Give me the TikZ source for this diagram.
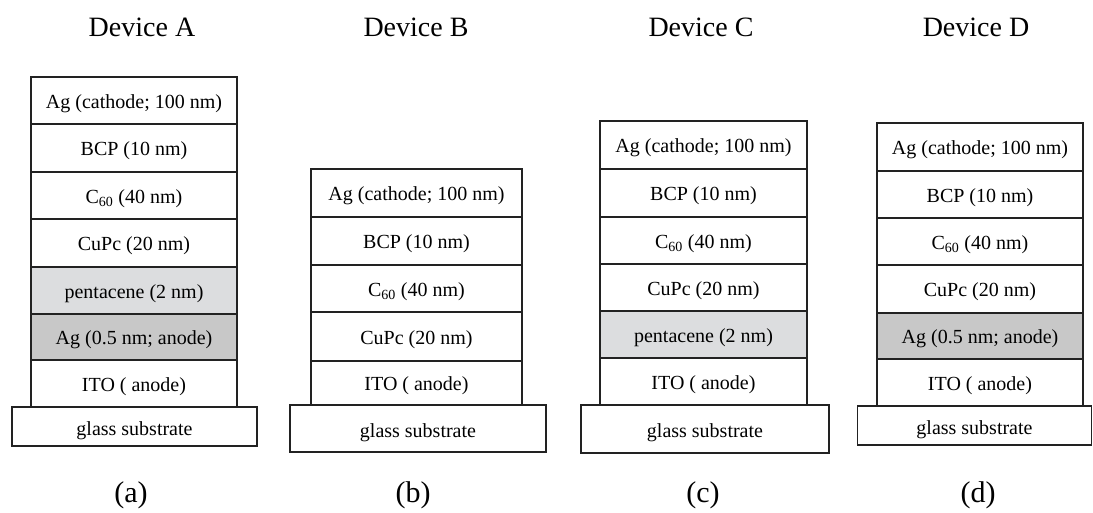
\documentclass[tikz,border=0pt]{standalone}
\usepackage{fontspec}
\setmainfont{Liberation Serif}
\definecolor{penta}{HTML}{DCDDDF}
\definecolor{agan}{HTML}{C8C8C8}
\definecolor{edge}{HTML}{222222}
\begin{document}
\begin{tikzpicture}[x=1pt,y=-1pt,
  layer/.style={draw=edge, line width=1.3pt, fill=white, inner sep=0pt, anchor=center,
    text height=15pt, text depth=0pt,
    font=\fontsize{20}{24}\selectfont},
  glass/.style={layer, text height=17pt},
  title/.style={anchor=base, inner sep=0pt, font=\fontsize{28}{32}\selectfont},
  sublabel/.style={anchor=base, inner sep=0pt, font=\fontsize{30}{34}\selectfont}]
\useasboundingbox (0,0) rectangle (1093,512);
% Device A
\node[layer, minimum width=206, minimum height=47] (a1) at (134,100.5) {Ag (cathode; 100 nm)};
\node[layer, minimum width=206, minimum height=48] (a2) at (134,148) {BCP (10 nm)};
\node[layer, minimum width=206, minimum height=47] (a3) at (134,195.5) {C\textsubscript{60} (40 nm)};
\node[layer, minimum width=206, minimum height=48] (a4) at (134,243) {CuPc (20 nm)};
\node[layer, minimum width=206, minimum height=47, fill=penta] (a5) at (134,290.5) {pentacene (2 nm)};
\node[layer, minimum width=206, minimum height=46, fill=agan] (a6) at (134,337) {Ag (0.5 nm; anode)};
\node[layer, minimum width=206, minimum height=47] (a7) at (134,383.5) {ITO ( anode)};
\node[glass, minimum width=245, minimum height=39] (ag) at (134.5,426.5) {glass substrate};
% Device B
\node[layer, minimum width=211, minimum height=48] (b1) at (416.5,193) {Ag (cathode; 100 nm)};
\node[layer, minimum width=211, minimum height=48] (b2) at (416.5,241) {BCP (10 nm)};
\node[layer, minimum width=211, minimum height=47] (b3) at (416.5,288.5) {C\textsubscript{60} (40 nm)};
\node[layer, minimum width=211, minimum height=49] (b4) at (416.5,336.5) {CuPc (20 nm)};
\node[layer, minimum width=211, minimum height=44] (b5) at (416.5,383) {ITO ( anode)};
\node[glass, minimum width=256, minimum height=47] (bg) at (418,428.5) {glass substrate};
% Device C
\node[layer, minimum width=207, minimum height=48] (c1) at (703.5,145) {Ag (cathode; 100 nm)};
\node[layer, minimum width=207, minimum height=48] (c2) at (703.5,193) {BCP (10 nm)};
\node[layer, minimum width=207, minimum height=47] (c3) at (703.5,240.5) {C\textsubscript{60} (40 nm)};
\node[layer, minimum width=207, minimum height=47] (c4) at (703.5,287.5) {CuPc (20 nm)};
\node[layer, minimum width=207, minimum height=47, fill=penta] (c5) at (703.5,334.5) {pentacene (2 nm)};
\node[layer, minimum width=207, minimum height=47] (c6) at (703.5,381.5) {ITO ( anode)};
\node[glass, minimum width=248, minimum height=48] (cg) at (705,429) {glass substrate};
% Device D
\node[layer, minimum width=206, minimum height=48] (d1) at (980,147) {Ag (cathode; 100 nm)};
\node[layer, minimum width=206, minimum height=47] (d2) at (980,194.5) {BCP (10 nm)};
\node[layer, minimum width=206, minimum height=47] (d3) at (980,241.5) {C\textsubscript{60} (40 nm)};
\node[layer, minimum width=206, minimum height=48] (d4) at (980,289) {CuPc (20 nm)};
\node[layer, minimum width=206, minimum height=46, fill=agan] (d5) at (980,336) {Ag (0.5 nm; anode)};
\node[layer, minimum width=206, minimum height=47] (d6) at (980,382.5) {ITO ( anode)};
\node[glass, minimum width=234, minimum height=39] (dg) at (974.5,425.5) {glass substrate};
% Titles
\node[title] (ta) at (142,36) {Device A};
\node[title] (tb) at (416,36) {Device B};
\node[title] (tc) at (701,36) {Device C};
\node[title] (td) at (976,36) {Device D};
% Sub-labels
\node[sublabel] (la) at (131,502) {(a)};
\node[sublabel] (lb) at (413,502) {(b)};
\node[sublabel] (lc) at (703,502) {(c)};
\node[sublabel] (ld) at (978,502) {(d)};
\end{tikzpicture}
\end{document}
